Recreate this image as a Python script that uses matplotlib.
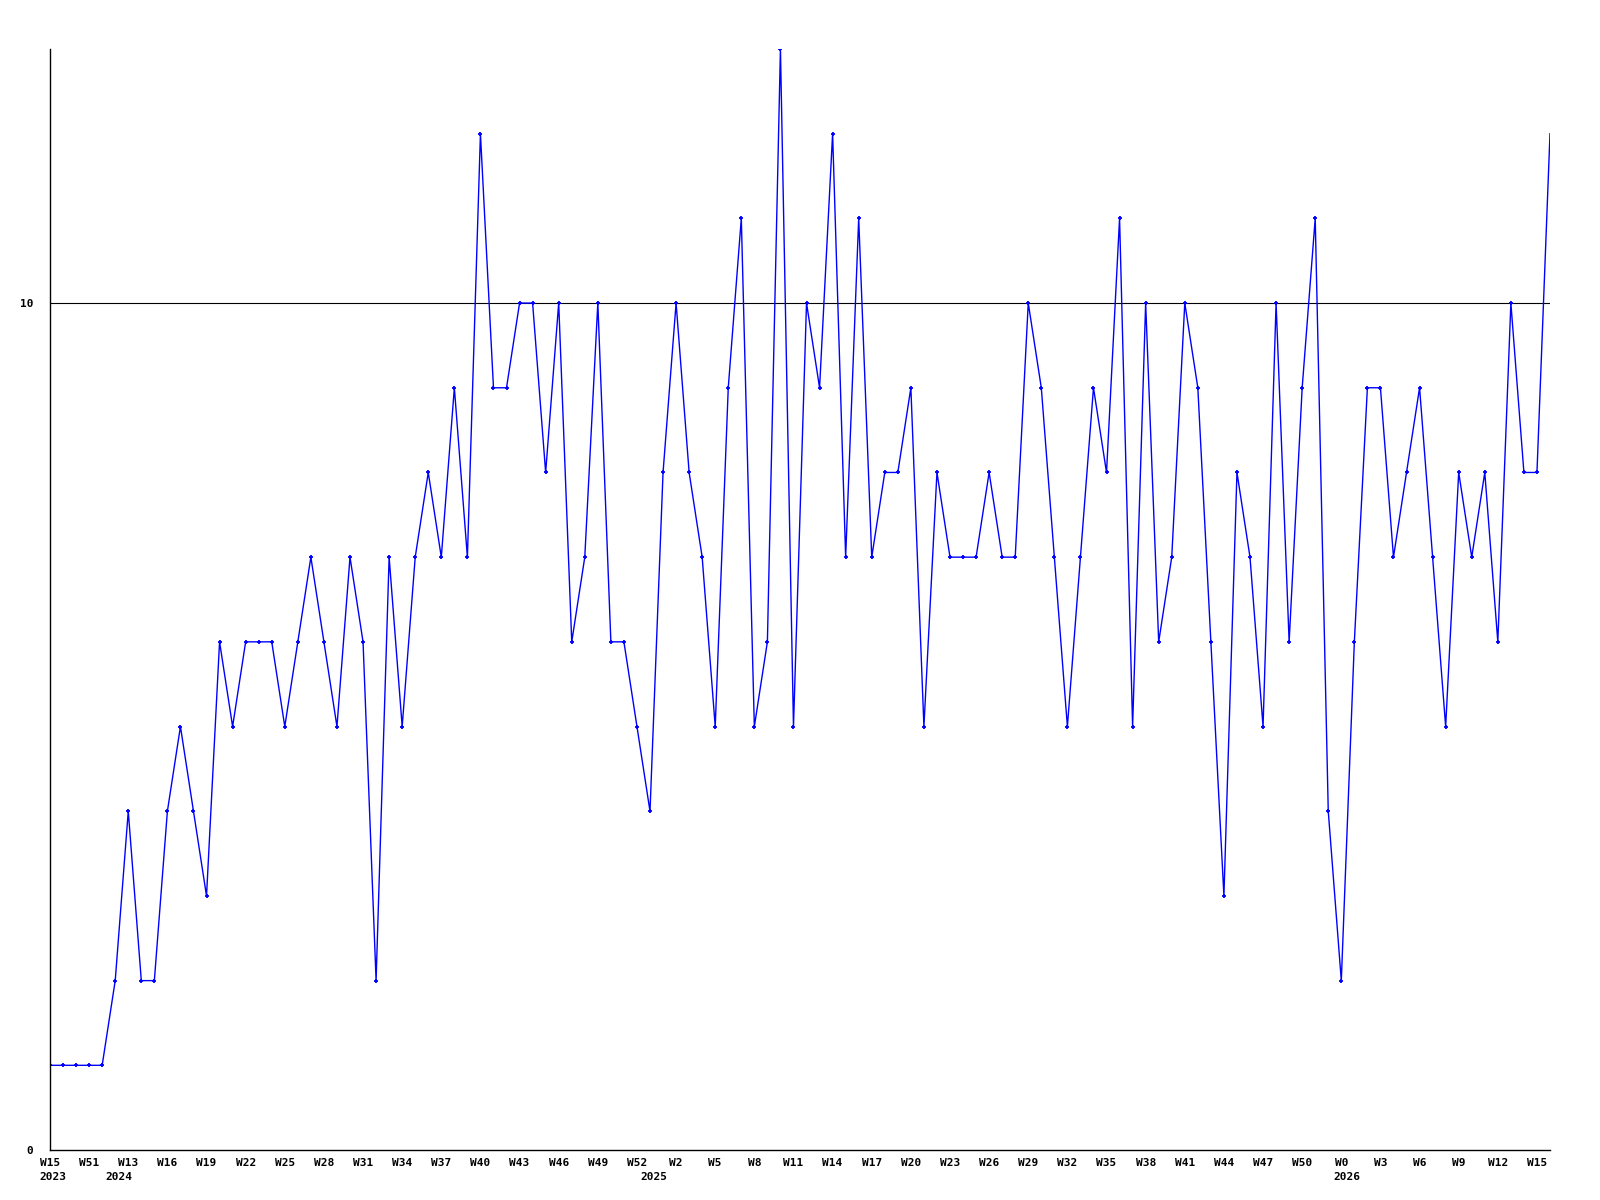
import matplotlib
matplotlib.use("Agg")
import matplotlib.pyplot as plt
import matplotlib.transforms as mtransforms
import numpy as np

# weekly counts, one point per week slot
values = [1, 1, 1, 1, 1, 2, 4, 2, 2, 4, 5, 4, 3, 6, 5, 6, 6, 6, 5, 6,
          7, 6, 5, 7, 6, 2, 7, 5, 7, 8, 7, 9, 7, 12, 9, 9, 10, 10, 8, 10,
          6, 7, 10, 6, 6, 5, 4, 8, 10, 8, 7, 5, 9, 11, 5, 6, 13, 5, 10, 9,
          12, 7, 11, 7, 8, 8, 9, 5, 8, 7, 7, 7, 8, 7, 7, 10, 9, 7, 5, 7,
          9, 8, 11, 5, 10, 6, 7, 10, 9, 6, 3, 8, 7, 5, 10, 6, 9, 11, 4, 2,
          6, 9, 9, 7, 8, 9, 7, 5, 8, 7, 8, 6, 10, 8, 8, 12]

week_labels = ["W15", "W51", "W13", "W16", "W19", "W22", "W25", "W28", "W31",
               "W34", "W37", "W40", "W43", "W46", "W49", "W52", "W2", "W5",
               "W8", "W11", "W14", "W17", "W20", "W23", "W26", "W29", "W32",
               "W35", "W38", "W41", "W44", "W47", "W50", "W0", "W3", "W6",
               "W9", "W12", "W15"]
label_step = 3

year_labels = ["2023", "2024", "2025", "2026"]
year_at = [0.2, 5.25, 46.3, 99.4]

font = {"family": "DejaVu Sans Mono", "weight": "bold", "size": 8}

fig = plt.figure(figsize=(16, 12), dpi=100)
ax = fig.add_axes([50 / 1600, 50 / 1200, 1500 / 1600, 1101 / 1200])

x = np.arange(len(values))
ax.axhline(10, color="black", lw=0.8, zorder=1)
# last point sits on the right edge, the original shows no marker there
ax.plot(x, values, color="#0000ff", lw=1.0, marker="+", ms=3.5, mew=1.3,
        markevery=slice(0, len(values) - 1), zorder=2)

ax.set_xlim(0, len(values) - 1)
ax.set_ylim(0, 13)

ax.set_xticks(np.arange(len(week_labels)) * label_step)
ax.set_xticklabels(week_labels, fontdict=font)
ax.set_yticks([0, 10])
ax.set_yticklabels(["0", "10"], fontdict=font)
ax.tick_params(length=0)
ax.tick_params(axis="x", pad=6)
ax.tick_params(axis="y", pad=12)

trans = mtransforms.blended_transform_factory(ax.transData, ax.transAxes)
for lab, xp in zip(year_labels, year_at):
    ax.text(xp, -0.02, lab, transform=trans, ha="center", va="top", **font)

for s in ["top", "right"]:
    ax.spines[s].set_visible(False)
ax.spines["left"].set_linewidth(1)
ax.spines["bottom"].set_linewidth(1)

fig.savefig("out.png", dpi=100)
